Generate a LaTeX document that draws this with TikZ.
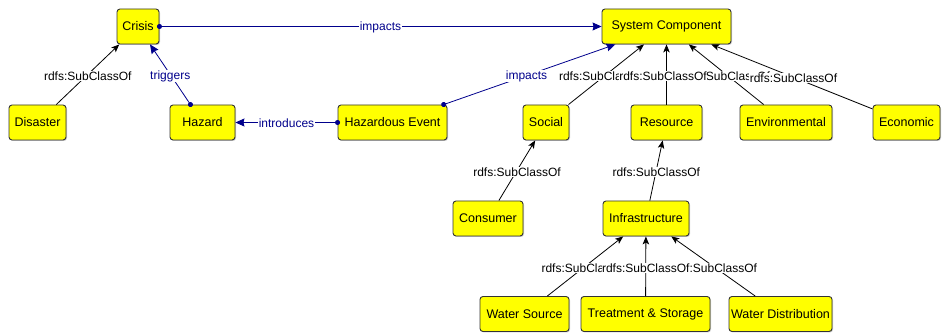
\documentclass[tikz,border=0pt]{standalone}
\usepackage{fontspec}
\setmainfont{Liberation Sans}
\usetikzlibrary{arrows.meta,shadows}
\definecolor{navy}{RGB}{0,0,140}
\definecolor{boxyellow}{RGB}{255,255,0}
\begin{document}
\begin{tikzpicture}[x=1pt,y=-1pt,
 cls/.style={draw=black!80, fill=boxyellow, rounded corners=3pt, line width=0.9pt, minimum height=35pt, inner sep=0pt, font=\fontsize{12.5}{14}\selectfont, drop shadow={shadow xshift=1pt,shadow yshift=-1pt,opacity=0.4}},
 sub/.style={draw=black, line width=0.8pt, -{Stealth[length=8pt,width=6.5pt,inset=2pt]}},
 rel/.style={draw=navy, line width=0.8pt, {Circle[length=5pt]}-{Stealth[length=9pt,width=8pt,inset=1pt]}, shorten <=-2.5pt},
 lbl/.style={fill=white, inner sep=0.5pt, yshift=-1.5pt, font=\fontsize{12}{14}\selectfont},
 rlbl/.style={lbl, text=navy}]
\useasboundingbox (0,0) rectangle (942,336);
% nodes
\node[cls, minimum width=42pt]  (crisis)   at (138,26.5)   {Crisis};
\node[cls, minimum width=57pt]  (disaster) at (37.5,122.5) {Disaster};
\node[cls, minimum width=65pt]  (hazard)   at (202.5,122.5){Hazard};
\node[cls, minimum width=109pt] (hazevent) at (392.5,122.5){Hazardous Event};
\node[cls, minimum width=129pt] (syscomp)  at (666.5,26.5) {System Component};
\node[cls, minimum width=46pt]  (social)   at (546,122.5)  {Social};
\node[cls, minimum width=71pt]  (resource) at (666.5,122.5){Resource};
\node[cls, minimum width=92pt]  (environ)  at (786,122.5)  {Environmental};
\node[cls, minimum width=67pt]  (economic) at (906.5,122.5){Economic};
\node[cls, minimum width=70pt]  (consumer) at (488,218.5)  {Consumer};
\node[cls, minimum width=86pt]  (infra)    at (646,218.5)  {Infrastructure};
\node[cls, minimum width=89pt]  (wsource)  at (524.5,314)  {Water Source};
\node[cls, minimum width=129pt] (treat)    at (645.5,314)  {Treatment \& Storage};
\node[cls, minimum width=103pt] (wdist)    at (780.5,314)  {Water Distribution};
% relations
\draw[sub] (disaster) -- node[lbl]{rdfs:SubClassOf} (crisis);
\draw[rel] (hazard) -- node[rlbl]{triggers} (crisis);
\draw[rel] (crisis) -- node[rlbl, yshift=0.5pt]{impacts} (syscomp);
\draw[rel] (hazevent) -- node[rlbl, yshift=0.5pt]{introduces} (hazard);
\draw[rel] (hazevent) -- node[rlbl, xshift=-3pt]{impacts} (syscomp);
\draw[sub] (social) -- node[lbl, xshift=-3.5pt]{rdfs:SubClassOf} (syscomp);
\draw[sub] (environ) -- node[lbl]{rdfs:SubClassOf} (syscomp);
\draw[sub] (resource) -- node[lbl, xshift=-3.5pt]{rdfs:SubClassOf} (syscomp);
\draw[sub] (economic) -- node[lbl, xshift=1.5pt]{rdfs:SubClassOf} (syscomp);
\draw[sub] (consumer) -- node[lbl]{rdfs:SubClassOf} (social);
\draw[sub] (infra) -- node[lbl]{rdfs:SubClassOf} (resource);
\draw[sub] (wsource) -- node[lbl]{rdfs:SubClassOf} (infra);
\draw[sub] (wdist) -- node[lbl]{rdfs:SubClassOf} (infra);
\draw[sub] (treat) -- node[lbl]{rdfs:SubClassOf} (infra);
\end{tikzpicture}
\end{document}
